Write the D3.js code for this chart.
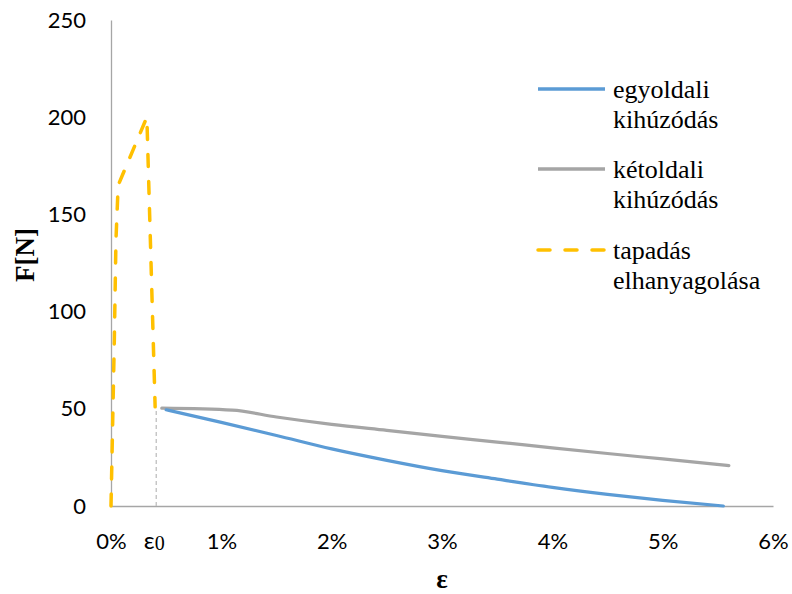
<!DOCTYPE html>
<html>
<head>
<meta charset="utf-8">
<script src="https://cdn.jsdelivr.net/npm/d3@7"></script>
<style>
  html, body { margin: 0; padding: 0; background: #fff; }
  svg { display: block; }
</style>
</head>
<body>
<svg id="chart" width="792" height="594"></svg>
<script>
// Strain values in percent, force in newtons
const strainOneSided = [0.50, 1.0, 1.5, 2.0, 2.5, 3.0, 3.5, 4.0, 4.5, 5.0, 5.55];
const forceOneSided  = [49.5, 43, 36.3, 29.4, 23.5, 18.2, 13.8, 9.6, 6.0, 2.9, 0];

const strainTwoSided = [0.46, 1.1, 1.5, 2.0, 2.5, 3.0, 3.5, 4.0, 4.5, 5.0, 5.6];
const forceTwoSided  = [50.3, 49.3, 45.8, 42.0, 38.9, 35.8, 32.9, 29.9, 27.0, 24.2, 20.8];

const strainNoAdhesion = [0, 0.03, 0.045, 0.065, 0.325, 0.40];
const forceNoAdhesion  = [0, 85, 137, 165, 200, 51];

const epsilon0 = 0.41;
const epsilon0Force = 50.3;

const xTicks = [0, 1, 2, 3, 4, 5, 6];
const yTicks = [0, 50, 100, 150, 200, 250];

const seriesNames = [
  ["egyoldali", "kihúzódás"],
  ["kétoldali", "kihúzódás"],
  ["tapadás", "elhanyagolása"]
];
const seriesColors = ["#5B9BD5", "#A5A5A5", "#FFC000"];

const svg = d3.select("#chart");
const x = d3.scaleLinear().domain([0, 6]).range([111, 773]);
const y = d3.scaleLinear().domain([0, 250]).range([506, 20]);

const sansFont = "Lato, 'Open Sans', sans-serif";
const serifFont = "'Liberation Serif', 'DejaVu Serif', serif";
const axisColor = "#A6A6A6";

// Y axis
const yAxis = svg.append("g")
  .attr("transform", `translate(${x(0)},0)`)
  .call(d3.axisLeft(y).tickValues(yTicks).tickSize(0).tickPadding(25).tickFormat(d3.format("d")));
yAxis.select(".domain").attr("stroke", axisColor).attr("stroke-width", 1.3);
yAxis.selectAll("text")
  .attr("font-family", sansFont).attr("font-size", 22).attr("fill", "#000");

// X axis
const xAxis = svg.append("g")
  .attr("transform", `translate(0,${y(0)})`)
  .call(d3.axisBottom(x).tickValues(xTicks).tickSize(0).tickPadding(27).tickFormat(d => d + "%"));
xAxis.select(".domain").attr("stroke", axisColor).attr("stroke-width", 1.3);
xAxis.selectAll("text")
  .attr("font-family", sansFont).attr("font-size", 22).attr("fill", "#000");

// epsilon_0 marker label on the x axis
const e0 = svg.append("text")
  .attr("x", x(epsilon0) - 2)
  .attr("y", 549)
  .attr("text-anchor", "middle")
  .attr("fill", "#000");
e0.append("tspan").attr("font-family", sansFont).attr("font-size", 24).text("ε");
e0.append("tspan").attr("font-family", serifFont).attr("font-size", 20).attr("dy", 1).text("0");

// Vertical guide at epsilon_0
svg.append("line")
  .attr("x1", x(epsilon0)).attr("x2", x(epsilon0))
  .attr("y1", y(0)).attr("y2", y(epsilon0Force))
  .attr("stroke", "#BFBFBF").attr("stroke-width", 1.3)
  .attr("stroke-dasharray", "4,3");

// Axis titles
svg.append("text")
  .attr("transform", `translate(34,255) rotate(-90)`)
  .attr("text-anchor", "middle")
  .attr("font-family", serifFont).attr("font-weight", "bold").attr("font-size", 27)
  .attr("fill", "#000")
  .text("F[N]");

svg.append("text")
  .attr("x", 442).attr("y", 588)
  .attr("text-anchor", "middle")
  .attr("font-family", serifFont).attr("font-weight", "bold").attr("font-size", 27)
  .attr("fill", "#000")
  .text("ε");

// Series lines
const smooth = d3.line().x(d => x(d[0])).y(d => y(d[1])).curve(d3.curveMonotoneX);
const straight = d3.line().x(d => x(d[0])).y(d => y(d[1]));

svg.append("path")
  .datum(d3.zip(strainTwoSided, forceTwoSided))
  .attr("d", smooth)
  .attr("fill", "none").attr("stroke", seriesColors[1])
  .attr("stroke-width", 3.2).attr("stroke-linecap", "round").attr("stroke-linejoin", "round");

svg.append("path")
  .datum(d3.zip(strainOneSided, forceOneSided))
  .attr("d", smooth)
  .attr("fill", "none").attr("stroke", seriesColors[0])
  .attr("stroke-width", 3.2).attr("stroke-linecap", "round").attr("stroke-linejoin", "round");

svg.append("path")
  .datum(d3.zip(strainNoAdhesion, forceNoAdhesion))
  .attr("d", straight)
  .attr("fill", "none").attr("stroke", seriesColors[2])
  .attr("stroke-width", 3.5).attr("stroke-linecap", "round").attr("stroke-linejoin", "round")
  .attr("stroke-dasharray", "12,15");

// Legend
const legendLineY = [89, 169, 250];
const legend = svg.append("g");
seriesNames.forEach((lines, i) => {
  const ly = legendLineY[i];
  const sample = legend.append("line")
    .attr("x1", 538).attr("x2", 605)
    .attr("y1", ly).attr("y2", ly)
    .attr("stroke", seriesColors[i]).attr("stroke-width", 3.5);
  if (i === 2) sample.attr("stroke-dasharray", "12,15").attr("stroke-linecap", "round");
  const t = legend.append("text")
    .attr("x", 613).attr("y", ly + 9)
    .attr("font-family", serifFont).attr("font-size", 26).attr("fill", "#000");
  lines.forEach((s, k) => {
    t.append("tspan").attr("x", 613).attr("dy", k === 0 ? 0 : 30).text(s);
  });
});
</script>
</body>
</html>
